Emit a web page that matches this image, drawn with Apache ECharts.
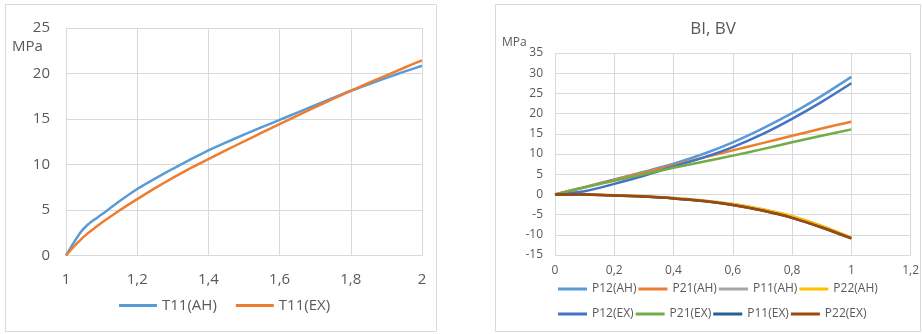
<!DOCTYPE html>
<html>
<head>
<meta charset="utf-8">
<script src="https://cdn.jsdelivr.net/npm/echarts@6/dist/echarts.min.js"></script>
<style>
html,body{margin:0;padding:0;background:#fff;}
#c{width:922px;height:334px;}
</style>
</head>
<body>
<div id="c"></div>
<script>
// ---- Left chart data ----
const leftX = [1, 1.02, 1.04, 1.06, 1.08, 1.1, 1.15, 1.2, 1.25, 1.3, 1.35, 1.4, 1.45, 1.5, 1.55, 1.6, 1.65, 1.7, 1.75, 1.8, 1.85, 1.9, 1.95, 2];
const t11AH = [0, 1.3, 2.5, 3.35, 3.95, 4.5, 5.95, 7.3, 8.45, 9.53, 10.56, 11.55, 12.43, 13.28, 14.1, 14.9, 15.71, 16.51, 17.31, 18.1, 18.82, 19.52, 20.2, 20.85];
const t11EX = [0, 0.9, 1.7, 2.4, 3.0, 3.6, 4.95, 6.2, 7.4, 8.53, 9.6, 10.6, 11.58, 12.54, 13.5, 14.45, 15.38, 16.3, 17.2, 18.1, 18.96, 19.8, 20.63, 21.45];
const leftNames = ['T11(AH)', 'T11(EX)'];
const leftYTicks = [0, 5, 10, 15, 20, 25];

// ---- Right chart data ----
const rightTitle = 'BI, BV';
const rightX = [0, 0.1, 0.2, 0.3, 0.4, 0.5, 0.6, 0.7, 0.8, 0.9, 1];
const p12AH = [0, 1.8, 3.7, 5.6, 7.6, 10.0, 12.9, 16.3, 20.1, 24.4, 29.1];
const p21AH = [0, 1.8, 3.6, 5.4, 7.2, 9.1, 10.9, 12.7, 14.5, 16.3, 18.0];
const p11AH = [0, -0.05, -0.2, -0.45, -0.9, -1.5, -2.4, -3.7, -5.4, -7.8, -10.7];
const p22AH = [0, -0.05, -0.2, -0.45, -0.9, -1.5, -2.4, -3.7, -5.4, -7.8, -10.7];
const p12EX = [0, 0.8, 2.6, 4.6, 6.9, 9.1, 11.7, 14.9, 18.7, 22.9, 27.5];
const p21EX = [0, 1.7, 3.4, 5.0, 6.6, 8.1, 9.6, 11.2, 12.9, 14.5, 16.1];
const p11EX = [0, -0.05, -0.25, -0.55, -1.0, -1.65, -2.6, -4.0, -5.8, -8.2, -10.9];
const p22EX = [0, -0.05, -0.25, -0.55, -1.0, -1.65, -2.6, -4.0, -5.8, -8.2, -10.9];
const rightNames = ['P12(AH)', 'P21(AH)', 'P11(AH)', 'P22(AH)', 'P12(EX)', 'P21(EX)', 'P11(EX)', 'P22(EX)'];
const rightSeries = [p12AH, p21AH, p11AH, p22AH, p12EX, p21EX, p11EX, p22EX];
const rightColors = ['#5B9BD5', '#ED7D31', '#A5A5A5', '#FFC000', '#4472C4', '#70AD47', '#255E91', '#9E480E'];
const leftColors = ['#5B9BD5', '#ED7D31'];

const FONT = '"Open Sans", sans-serif';
const TXT = '#595959';
const GRID = '#d9d9d9';

function fmt(v) {
  let s = (Math.round(v * 10) / 10).toString();
  return s.replace('.', ',');
}
function pairs(xs, ys) { return xs.map((x, i) => [x, ys[i]]); }

const chart = echarts.init(document.getElementById('c'), null, {renderer: 'canvas'});

const series = [];
[t11AH, t11EX].forEach((d, i) => {
  series.push({
    name: leftNames[i], type: 'line', xAxisIndex: 0, yAxisIndex: 0,
    data: pairs(leftX, d), smooth: 0.2, showSymbol: false, symbol: 'none',
    lineStyle: {width: 2.5, color: leftColors[i]}, itemStyle: {color: leftColors[i]}
  });
});
rightSeries.forEach((d, i) => {
  series.push({
    name: rightNames[i], type: 'line', xAxisIndex: 1, yAxisIndex: 1,
    data: pairs(rightX, d), smooth: 0.3, showSymbol: false, symbol: 'none',
    lineStyle: {width: 2.5, color: rightColors[i]}, itemStyle: {color: rightColors[i]}
  });
});

const option = {
  animation: false,
  textStyle: {fontFamily: FONT},
  grid: [
    {left: 66, top: 28, width: 356, height: 227.5},
    {left: 555, top: 53, width: 358, height: 202}
  ],
  xAxis: [
    {gridIndex: 0, type: 'value', min: 1, max: 2, interval: 0.2,
     axisLine: {lineStyle: {color: GRID, width: 1}}, axisTick: {show: false},
     splitLine: {show: true, lineStyle: {color: GRID}},
     axisLabel: {color: TXT, fontSize: 15, fontFamily: FONT, margin: 17, formatter: fmt}},
    {gridIndex: 1, type: 'value', min: 0, max: 1.2, interval: 0.2,
     axisLine: {onZero: true, lineStyle: {color: GRID, width: 1}}, axisTick: {show: false},
     splitLine: {show: true, lineStyle: {color: GRID}},
     axisLabel: {color: TXT, fontSize: 12, fontFamily: FONT, margin: 10, formatter: fmt}}
  ],
  yAxis: [
    {gridIndex: 0, type: 'value', min: leftYTicks[0], max: leftYTicks[leftYTicks.length - 1], interval: 5,
     axisLine: {show: true, lineStyle: {color: GRID}}, axisTick: {show: false},
     splitLine: {show: true, lineStyle: {color: GRID}},
     axisLabel: {color: TXT, fontSize: 15, fontFamily: FONT, margin: 16}},
    {gridIndex: 1, type: 'value', min: -15, max: 35, interval: 5,
     axisLine: {show: false}, axisTick: {show: false},
     splitLine: {show: true, lineStyle: {color: GRID}},
     axisLabel: {color: TXT, fontSize: 12, fontFamily: FONT, margin: 12}}
  ],
  legend: [
    {data: leftNames, left: 119, top: 298, padding: 0, itemWidth: 38, itemHeight: 3, itemGap: 19, icon: 'rect',
     textStyle: {color: TXT, fontSize: 15, fontFamily: FONT}},
    {data: rightNames.slice(0, 4), left: 558, top: 283, padding: 0, itemWidth: 29, itemHeight: 3, itemGap: 2, icon: 'rect',
     textStyle: {color: TXT, fontSize: 12, fontFamily: FONT, width: 45, overflow: 'none'}},
    {data: rightNames.slice(4), left: 558, top: 308, padding: 0, itemWidth: 29, itemHeight: 3, itemGap: 2, icon: 'rect',
     textStyle: {color: TXT, fontSize: 12, fontFamily: FONT, width: 45, overflow: 'none'}}
  ],
  graphic: [
    {type: 'rect', silent: true, z: -1, shape: {x: 5.5, y: 4.5, width: 431, height: 327}, style: {fill: 'none', stroke: GRID, lineWidth: 1}},
    {type: 'rect', silent: true, z: -1, shape: {x: 495.5, y: 4.5, width: 425, height: 327}, style: {fill: 'none', stroke: GRID, lineWidth: 1}},
    {type: 'text', silent: true, x: 12, y: 47, style: {text: 'MPa', fill: TXT, fontSize: 15, fontFamily: FONT, textVerticalAlign: 'middle', textAlign: 'left'}},
    {type: 'text', silent: true, x: 502, y: 43, style: {text: 'MPa', fill: TXT, fontSize: 12, fontFamily: FONT, textVerticalAlign: 'middle', textAlign: 'left'}},
    {type: 'text', silent: true, x: 713, y: 29, style: {text: rightTitle, fill: TXT, fontSize: 17, fontFamily: FONT, textVerticalAlign: 'middle', textAlign: 'center'}}
  ],
  series: series
};
chart.setOption(option);
</script>
</body>
</html>
